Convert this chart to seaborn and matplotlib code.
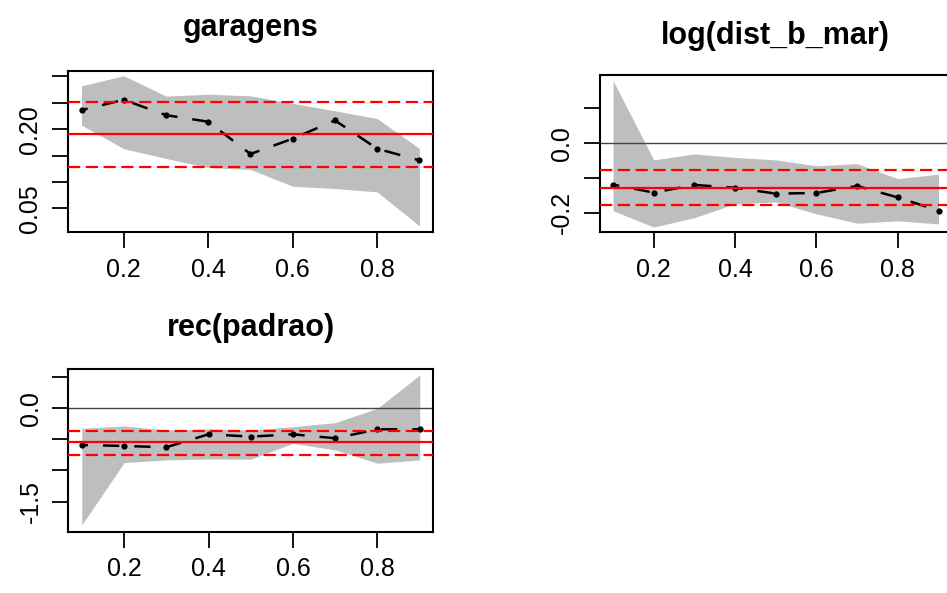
import numpy as np
import matplotlib
matplotlib.use('Agg')
import matplotlib.pyplot as plt
import seaborn as sns

# quantiles
taus = [0.1, 0.2, 0.3, 0.4, 0.5, 0.6, 0.7, 0.8, 0.9]

# garagens
gar_coef = [0.236, 0.2555, 0.2265, 0.214, 0.153, 0.182, 0.2165, 0.163, 0.141]
gar_up = [0.282, 0.301, 0.2625, 0.266, 0.263, 0.2487, 0.2347, 0.220, 0.1634]
gar_lo = [0.2076, 0.163, 0.1445, 0.1275, 0.1237, 0.092, 0.0877, 0.0813, 0.0169]
gar_ols = [0.1905, 0.2505, 0.1286]

# log(dist_b_mar)
dist_coef = [-0.119, -0.142, -0.120, -0.128, -0.145, -0.143, -0.123, -0.156, -0.194]
dist_up = [0.180, -0.048, -0.031, -0.041, -0.048, -0.065, -0.059, -0.102, -0.089]
dist_lo = [-0.194, -0.241, -0.214, -0.174, -0.169, -0.203, -0.230, -0.223, -0.232]
dist_ols = [-0.1285, -0.077, -0.178]

# rec(padrao)
pad_coef = [-0.590, -0.606, -0.627, -0.418, -0.456, -0.418, -0.482, -0.338, -0.338]
pad_up = [-0.322, -0.285, -0.349, -0.333, -0.349, -0.296, -0.231, 0.0, 0.535]
pad_lo = [-1.876, -0.874, -0.831, -0.815, -0.820, -0.563, -0.670, -0.884, -0.831]
pad_ols = [-0.547, -0.360, -0.751]

panels = [
    dict(title='garagens', coef=gar_coef, up=gar_up, lo=gar_lo, ols=gar_ols,
         ylim=(0.0055, 0.310), yticks=[0.05, 0.10, 0.15, 0.20, 0.25, 0.30],
         ylabels=['0.05', '', '', '0.20', '', ''], zero=False, tpad=25,
         pos=[0.0718, 0.6088, 0.3854, 0.2715]),
    dict(title='log(dist_b_mar)', coef=dist_coef, up=dist_up, lo=dist_lo, ols=dist_ols,
         ylim=(-0.256, 0.196), yticks=[-0.2, -0.1, 0.0, 0.1],
         ylabels=['-0.2', '', '0.0', ''], zero=True, tpad=22,
         pos=[0.6336, 0.6083, 0.3712, 0.2653]),
    dict(title='rec(padrao)', coef=pad_coef, up=pad_up, lo=pad_lo, ols=pad_ols,
         ylim=(-1.984, 0.627), yticks=[-1.5, -1.0, -0.5, 0.0, 0.5],
         ylabels=['-1.5', '', '', '0.0', ''], zero=True, tpad=24,
         pos=[0.0721, 0.1034, 0.3854, 0.2739]),
]

sns.set_style('white')
plt.rcParams['font.family'] = ['Liberation Sans', 'DejaVu Sans']
plt.rcParams['text.color'] = 'black'
plt.rcParams['xtick.color'] = 'black'
plt.rcParams['ytick.color'] = 'black'

fig = plt.figure(figsize=(9.47, 5.93), dpi=100)

for p in panels:
    ax = fig.add_axes(p['pos'])
    ax.fill_between(taus, p['lo'], p['up'], color='#BEBEBE', linewidth=0, zorder=1)
    sns.lineplot(x=taus, y=p['coef'], ax=ax, color='black', linewidth=1.8,
                 marker='o', markersize=4.5, markeredgewidth=0, zorder=3)
    ax.lines[-1].set_linestyle((4, (6.5, 6)))
    if p['zero']:
        ax.axhline(0, color='#444444', linewidth=1.0, zorder=2)
    ax.axhline(p['ols'][0], color='red', linewidth=1.6, zorder=4)
    ax.axhline(p['ols'][1], color='red', linewidth=1.6, linestyle=(0, (5.5, 2.5)), zorder=4)
    ax.axhline(p['ols'][2], color='red', linewidth=1.6, linestyle=(0, (5.5, 2.5)), zorder=4)

    ax.set_xlim(0.068, 0.932)
    ax.set_ylim(*p['ylim'])
    ax.set_xticks([0.2, 0.4, 0.6, 0.8], ['0.2', '0.4', '0.6', '0.8'])
    ax.set_yticks(p['yticks'], p['ylabels'])
    ax.tick_params(axis='both', direction='out', length=11.5, width=1.3,
                   labelsize=18, colors='black', pad=7, left=True, bottom=True)
    for lab in ax.get_yticklabels():
        lab.set_rotation(90)
        lab.set_va('center')
    for s in ax.spines.values():
        s.set_visible(True)
        s.set_color('black')
        s.set_linewidth(1.5)
    ax.set_title(p['title'], fontsize=22, fontweight='bold', pad=p['tpad'], color='black')

fig.savefig('out.png', dpi=100)
